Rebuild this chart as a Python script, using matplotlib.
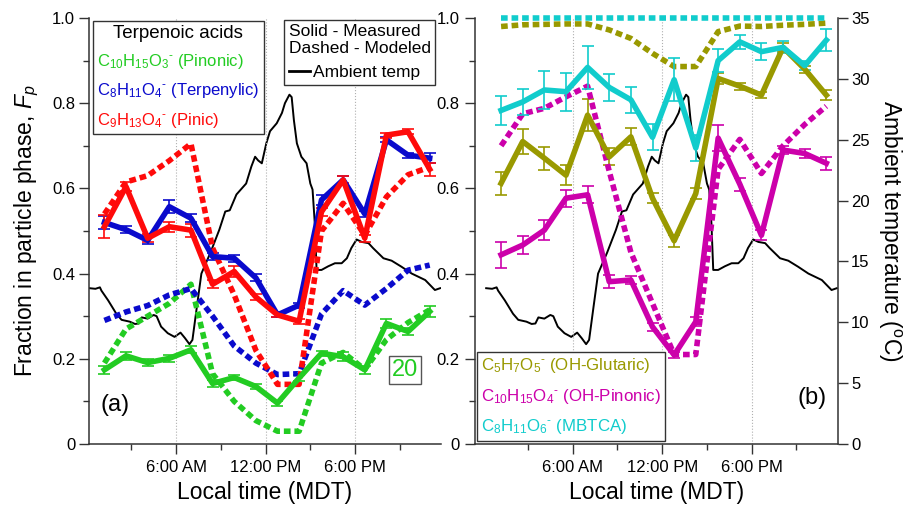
import matplotlib
matplotlib.use('Agg')
import matplotlib.pyplot as plt
from matplotlib.lines import Line2D
from matplotlib.ticker import FixedLocator

plt.rcParams['font.family'] = ['Liberation Sans', 'DejaVu Sans']
plt.rcParams['mathtext.fontset'] = 'custom'
plt.rcParams['mathtext.rm'] = 'Liberation Sans'
plt.rcParams['mathtext.it'] = 'Liberation Sans:italic'
plt.rcParams['mathtext.default'] = 'regular'

# sample times, hours of the day (MDT)
hours = [1.2, 2.65, 4.1, 5.55, 7.0, 8.45, 9.9, 11.35, 12.8, 14.25, 15.75, 17.2, 18.65, 20.1, 21.55, 23.0]

# (a) terpenoic acids
pinonic_meas = [0.174, 0.207, 0.191, 0.201, 0.221, 0.142, 0.156, 0.135, 0.096, 0.155, 0.213, 0.205, 0.174, 0.283, 0.264, 0.311]
pinonic_err = [0.01, 0.01, 0.008, 0.008, 0.008, 0.008, 0.006, 0.006, 0.006, 0.006, 0.006, 0.01, 0.01, 0.01, 0.008, 0.012]
pinonic_model = [0.19, 0.27, 0.30, 0.33, 0.375, 0.165, 0.10, 0.055, 0.03, 0.03, 0.19, 0.215, 0.175, 0.245, 0.285, 0.315]

terpenylic_meas = [0.52, 0.503, 0.478, 0.557, 0.53, 0.44, 0.436, 0.39, 0.303, 0.326, 0.573, 0.62, 0.54, 0.714, 0.678, 0.671]
terpenylic_err = [0.015, 0.008, 0.008, 0.015, 0.01, 0.008, 0.008, 0.008, 0.006, 0.006, 0.012, 0.01, 0.008, 0.006, 0.006, 0.012]
terpenylic_model = [0.29, 0.31, 0.325, 0.35, 0.365, 0.30, 0.23, 0.19, 0.163, 0.165, 0.305, 0.36, 0.326, 0.365, 0.408, 0.42]

pinic_meas = [0.51, 0.604, 0.483, 0.51, 0.502, 0.375, 0.405, 0.345, 0.303, 0.288, 0.545, 0.62, 0.483, 0.725, 0.733, 0.645]
pinic_err = [0.027, 0.01, 0.01, 0.012, 0.015, 0.01, 0.012, 0.006, 0.006, 0.006, 0.01, 0.008, 0.008, 0.006, 0.006, 0.015]
pinic_model = [0.54, 0.615, 0.63, 0.665, 0.705, 0.46, 0.35, 0.22, 0.14, 0.14, 0.50, 0.565, 0.49, 0.58, 0.632, 0.65]

# (b) more oxidized acids
glutaric_meas = [0.612, 0.71, 0.671, 0.631, 0.772, 0.674, 0.721, 0.577, 0.477, 0.588, 0.858, 0.84, 0.819, 0.931, 0.88, 0.819]
glutaric_err = [0.027, 0.03, 0.027, 0.024, 0.037, 0.02, 0.02, 0.012, 0.014, 0.012, 0.012, 0.008, 0.008, 0.01, 0.008, 0.012]
glutaric_model = [0.98, 0.984, 0.985, 0.986, 0.986, 0.972, 0.952, 0.917, 0.886, 0.886, 0.968, 0.981, 0.98, 0.983, 0.985, 0.988]

ohpinonic_meas = [0.444, 0.467, 0.502, 0.577, 0.585, 0.381, 0.385, 0.275, 0.209, 0.287, 0.718, 0.61, 0.49, 0.69, 0.682, 0.659]
ohpinonic_err = [0.03, 0.022, 0.024, 0.02, 0.02, 0.015, 0.01, 0.01, 0.008, 0.01, 0.03, 0.015, 0.012, 0.01, 0.01, 0.015]
ohpinonic_model = [0.70, 0.775, 0.788, 0.815, 0.84, 0.64, 0.45, 0.33, 0.21, 0.21, 0.645, 0.715, 0.635, 0.70, 0.75, 0.793]

mbtca_meas = [0.783, 0.803, 0.831, 0.827, 0.884, 0.837, 0.808, 0.72, 0.855, 0.695, 0.90, 0.944, 0.921, 0.931, 0.888, 0.948]
mbtca_err = [0.034, 0.03, 0.045, 0.045, 0.05, 0.032, 0.03, 0.031, 0.05, 0.03, 0.027, 0.017, 0.02, 0.014, 0.01, 0.026]
mbtca_model = [0.999, 0.999, 0.999, 0.999, 0.999, 0.999, 0.999, 0.999, 0.999, 0.999, 0.999, 0.999, 0.999, 0.999, 0.999, 0.999]

# ambient temperature trace
temp_hours = [0.2, 0.6, 0.9, 1.0, 1.45, 2.0, 2.35, 2.9, 3.25, 3.5, 3.7, 4.1, 4.5, 4.7, 5.0, 5.45,
              5.9, 6.3, 6.6, 6.9, 7.1, 7.4, 7.7, 8.3, 8.9, 9.3, 9.6, 10.05, 10.7, 11.05, 11.3, 11.5,
              11.75, 12.05, 12.3, 12.75, 13.1, 13.3, 13.6, 13.75, 13.9, 14.1, 14.4, 14.75, 15.0, 15.15,
              15.3, 15.42, 15.75, 16.2, 16.65, 17.1, 17.45, 17.75, 18.1, 18.45, 18.9, 19.2, 19.9, 20.45,
              21.1, 21.8, 22.7, 23.35, 23.7]
temp_c = [12.8, 12.75, 12.87, 12.6, 11.8, 10.7, 10.2, 10.05, 9.86, 9.9, 10.4, 10.3, 10.6, 10.5, 9.64, 9.1,
          8.8, 9.15, 8.7, 8.2, 8.55, 11.3, 14.0, 15.7, 17.6, 19.1, 19.2, 20.5, 21.4, 22.8, 23.6, 23.3,
          23.06, 24.7, 25.7, 26.35, 27.2, 28.0, 28.7, 28.5, 26.6, 24.7, 23.6, 23.06, 21.4, 20.9,
          18.1, 14.3, 14.3, 14.6, 14.85, 14.85, 15.26, 16.1, 16.8, 16.6, 16.5, 16.1, 15.26, 15.06,
          14.57, 14.0, 13.47, 12.65, 12.8]

green = '#22cc22'
blue = '#0a0acc'
red = '#ff0a0a'
olive = '#999900'
magenta = '#cc00aa'
cyan = '#11cccc'

hour_ticks = [6, 12, 18]
hour_labels = ['6:00 AM', '12:00 PM', '6:00 PM']
fp_ticks = [0, 0.2, 0.4, 0.6, 0.8, 1.0]
fp_labels = ['0', '0.2', '0.4', '0.6', '0.8', '1.0']

dash = (0, (1.2, 0.7))
lw = 4.0

fig = plt.figure(figsize=(9.15, 5.08), dpi=100)
axa = fig.add_axes([0.0973, 0.126, 0.3847, 0.8386])
axb = fig.add_axes([0.5191, 0.126, 0.3967, 0.8386])


def style_axis(ax):
    ax.set_ylim(0, 1.0)
    ax.set_xticks(hour_ticks)
    ax.set_xticklabels(hour_labels)
    ax.xaxis.set_minor_locator(FixedLocator([3, 9, 15, 21]))
    ax.set_yticks(fp_ticks)
    ax.set_yticklabels(fp_labels)
    ax.yaxis.set_minor_locator(FixedLocator([0.1, 0.3, 0.5, 0.7, 0.9]))
    ax.tick_params(which='major', direction='out', length=7, width=1, labelsize=12, color='#333333')
    ax.tick_params(which='minor', direction='out', length=4, width=1, color='#333333')
    ax.tick_params(axis='x', pad=4.5)
    ax.tick_params(axis='y', pad=3)
    for s in ['top', 'right']:
        ax.spines[s].set_visible(False)
    for s in ['left', 'bottom']:
        ax.spines[s].set_linewidth(1.1)
        ax.spines[s].set_color('#333333')
    for h in hour_ticks:
        ax.axvline(h, color='#b0b0b0', lw=0.8, ls=':', zorder=0)
    ax.set_xlabel('Local time (MDT)', fontsize=16.5, labelpad=4)
    ax.patch.set_visible(False)


# ---- panel (a)
style_axis(axa)
axa.set_xlim(0.17, 23.76)
axa.set_ylabel(r'Fraction in particle phase, $\mathit{F}_{\mathit{p}}$', fontsize=16.5, labelpad=8)

ta = axa.twinx()
ta.set_ylim(0, 35)
ta.axis('off')
ta.set_zorder(axa.get_zorder() - 1)
ta.plot(temp_hours, temp_c, color='black', lw=1.4)

for meas, err, model, c in [(pinonic_meas, pinonic_err, pinonic_model, green),
                            (terpenylic_meas, terpenylic_err, terpenylic_model, blue),
                            (pinic_meas, pinic_err, pinic_model, red)]:
    axa.plot(hours, model, color=c, lw=lw, ls=dash, dash_capstyle='butt')
    axa.errorbar(hours, meas, yerr=err, color=c, lw=lw, capsize=4, elinewidth=1.2, capthick=1.2)

h1 = [Line2D([], [], visible=False) for _ in range(3)]
leg1 = axa.legend(h1, [r'C$_{10}$H$_{15}$O$_3{}^{\text{-}}$ (Pinonic)',
                       r'C$_8$H$_{11}$O$_4{}^{\text{-}}$ (Terpenylic)',
                       r'C$_9$H$_{13}$O$_4{}^{\text{-}}$ (Pinic)'],
                  title='Terpenoic acids', loc='upper left', bbox_to_anchor=(0.011, 0.994),
                  handlelength=0, handletextpad=0, fontsize=12, title_fontsize=13.5,
                  labelcolor=[green, blue, red], fancybox=False, framealpha=1,
                  edgecolor='#333333', borderaxespad=0, borderpad=0.25, labelspacing=0.62)
leg1.get_frame().set_linewidth(1)
axa.add_artist(leg1)

leg2 = axa.legend([Line2D([], [], color='black', lw=2)], ['Ambient temp'],
                  title='Solid - Measured\nDashed - Modeled', alignment='left',
                  loc='upper left', bbox_to_anchor=(0.555, 0.996),
                  handlelength=1.2, handletextpad=0.2, fontsize=12.5, title_fontsize=12.5,
                  fancybox=False, framealpha=1, edgecolor='#333333', borderaxespad=0,
                  borderpad=0.25)
leg2.get_frame().set_linewidth(1)
leg2.get_title().set_multialignment('left')

axa.text(0.074, 0.092, '(a)', transform=axa.transAxes, fontsize=17, ha='center', va='center')
axa.text(0.898, 0.174, '20', transform=axa.transAxes, fontsize=17, ha='center', va='center',
         color=green, bbox=dict(boxstyle='square,pad=0.12', fc='white', ec='#555555', lw=1))

# ---- panel (b)
style_axis(axb)
axb.set_xlim(-0.55, 23.78)
axb.tick_params(axis='y', pad=4)

tb = axb.twinx()
tb.set_ylim(0, 35)
tb.set_yticks([0, 5, 10, 15, 20, 25, 30, 35])
tb.tick_params(direction='out', length=7, width=1, labelsize=12, pad=2.5, color='#333333')
for s in ['top', 'left', 'bottom']:
    tb.spines[s].set_visible(False)
tb.spines['right'].set_linewidth(1.1)
tb.spines['right'].set_color('#333333')
tb.set_zorder(axb.get_zorder() - 1)
tb.plot(temp_hours, temp_c, color='black', lw=1.4)
tb.set_ylabel(r'Ambient temperature ($^{o}$C)', fontsize=16.5, rotation=270, labelpad=24)

for meas, err, model, c in [(glutaric_meas, glutaric_err, glutaric_model, olive),
                            (ohpinonic_meas, ohpinonic_err, ohpinonic_model, magenta),
                            (mbtca_meas, mbtca_err, mbtca_model, cyan)]:
    axb.plot(hours, model, color=c, lw=lw, ls=dash, dash_capstyle='butt', clip_on=False)
    axb.errorbar(hours, meas, yerr=err, color=c, lw=lw, capsize=4, elinewidth=1.2, capthick=1.2)

h3 = [Line2D([], [], visible=False) for _ in range(3)]
leg3 = axb.legend(h3, [r'C$_5$H$_7$O$_5{}^{\text{-}}$ (OH-Glutaric)',
                       r'C$_{10}$H$_{15}$O$_4{}^{\text{-}}$ (OH-Pinonic)',
                       r'C$_8$H$_{11}$O$_6{}^{\text{-}}$ (MBTCA)'],
                  loc='lower left', bbox_to_anchor=(0.005, 0.008),
                  handlelength=0, handletextpad=0, fontsize=12.2,
                  labelcolor=[olive, magenta, cyan], fancybox=False, framealpha=1,
                  edgecolor='#333333', borderaxespad=0, borderpad=0.25, labelspacing=0.68)
leg3.get_frame().set_linewidth(1)

axb.text(0.928, 0.108, '(b)', transform=axb.transAxes, fontsize=17, ha='center', va='center')

fig.savefig('out.png', dpi=100)
